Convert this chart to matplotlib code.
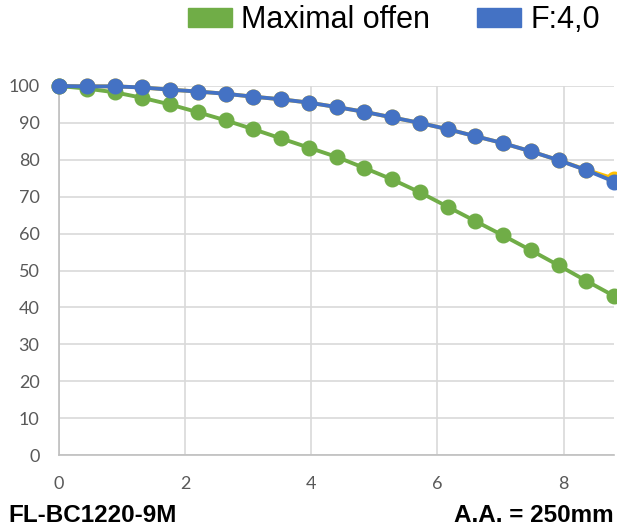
import matplotlib
matplotlib.use("Agg")
import matplotlib.pyplot as plt
from matplotlib.patches import Patch

x_step = 0.44
n_points = 21
x_values = [round(i * x_step, 2) for i in range(n_points)]

maximal_offen = [100.0, 99.3, 98.3, 96.8, 95.0, 92.9, 90.7, 88.3, 85.8, 83.3,
                 80.8, 77.8, 74.7, 71.2, 67.3, 63.4, 59.5, 55.5, 51.4, 47.2, 43.1]
f_4_0 = [100.0, 99.9, 99.9, 99.6, 99.0, 98.5, 97.9, 97.1, 96.4, 95.5,
         94.3, 93.0, 91.5, 90.0, 88.3, 86.4, 84.5, 82.3, 79.9, 77.2, 74.1]
f_hidden = [100.0, 99.9, 99.9, 99.6, 99.0, 98.5, 97.9, 97.1, 96.4, 95.5,
            94.3, 93.0, 91.5, 90.0, 88.3, 86.4, 84.5, 82.3, 79.9, 77.3, 74.9]

series_labels = ["Maximal offen", "F:4,0"]
x_ticks = [0, 2, 4, 6, 8]
y_ticks = list(range(0, 101, 10))
left_note = "FL-BC1220-9M"
right_note = "A.A. = 250mm"

green = "#70AD47"
blue = "#4472C4"
yellow = "#FFC000"

plt.rcParams['font.family'] = ['Liberation Sans', 'DejaVu Sans']

fig = plt.figure(figsize=(6.17, 5.28), dpi=100)
ax = fig.add_axes([59/617, 1 - 455/528, (614-59)/617, (455-86)/528])

ax.plot(x_values, f_hidden, color=yellow, lw=2.8, marker='o', ms=10.5, zorder=3, clip_on=False)
ax.plot(x_values, maximal_offen, color=green, lw=2.8, marker='o', ms=10.5, zorder=4, clip_on=False)
ax.plot(x_values, f_4_0, color=blue, lw=2.8, marker='o', ms=10.5, zorder=5, clip_on=False)

ax.set_xlim(0, 8.8)
ax.set_ylim(0, 100)
ax.set_xticks(x_ticks)
ax.set_yticks(y_ticks)
ax.grid(True, color="#d9d9d9", lw=1.2)
ax.set_axisbelow(True)
for s in ["top", "right"]:
    ax.spines[s].set_visible(False)
for s in ["left", "bottom"]:
    ax.spines[s].set_color("#bfbfbf")
    ax.spines[s].set_linewidth(1.2)
for lbl in ax.get_xticklabels() + ax.get_yticklabels():
    lbl.set_family(['Lato', 'DejaVu Sans'])
ax.tick_params(length=0, labelsize=13, labelcolor="#595959")
ax.tick_params(axis='y', pad=14)
ax.tick_params(axis='x', pad=15)

handles = [Patch(color=green), Patch(color=blue)]
fig.legend(handles, series_labels, loc='center', bbox_to_anchor=(394/617, 1 - 20/528),
           ncol=2, frameon=False, fontsize=22, handlelength=1.44, handleheight=0.59,
           handletextpad=0.3, columnspacing=1.54, borderpad=0, borderaxespad=0)

fig.text(8/617, 1 - 515/528, left_note, fontsize=17.5, fontweight='bold', va='center', ha='left')
fig.text(614/617, 1 - 515/528, right_note, fontsize=17.5, fontweight='bold', va='center', ha='right')

fig.savefig("out.png", dpi=100)
